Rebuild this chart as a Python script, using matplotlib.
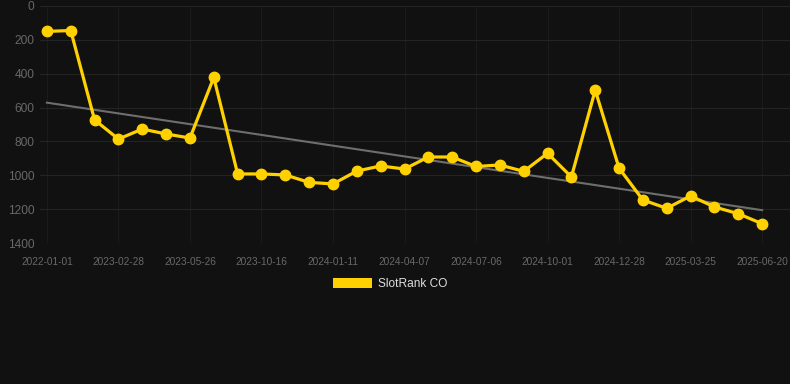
import matplotlib.pyplot as plt
import numpy as np
from matplotlib.patches import Patch

plt.rcParams['font.family'] = ['Liberation Sans', 'DejaVu Sans']

# категории: одна точка на каждую дату, подписи каждой третьей
tick_labels = ["2022-01-01", "2023-02-28", "2023-05-26", "2023-10-16", "2024-01-11",
               "2024-04-07", "2024-07-06", "2024-10-01", "2024-12-28", "2025-03-25",
               "2025-06-20"]

rank = [150, 145, 673, 786, 727, 756, 780, 422, 992, 992,
        998, 1042, 1051, 975, 945, 963, 892, 892, 948, 939,
        977, 870, 1010, 497, 958, 1146, 1195, 1122, 1187, 1227,
        1286]

series_name = "SlotRank CO"

bg = "#111111"
gold = "#FFD100"

x = np.arange(len(rank))

fig = plt.figure(figsize=[7.9, 3.84], dpi=100, facecolor=bg)
ax = fig.add_axes([40 / 790, 141 / 384, 750 / 790, 237 / 384])
ax.set_facecolor(bg)

# линия тренда
k, b = np.polyfit(x, rank, 1)
ax.plot(x, k * x + b, color="#6e6e6e", linewidth=1.5, zorder=2)

ax.plot(x, rank, color=gold, linewidth=2.3, marker="o", markersize=7.5, zorder=3)

ax.set_xlim(-0.29, 31.17)
ax.set_ylim(1400, 0)
ax.set_yticks(range(0, 1401, 200))
ax.set_xticks(x[::3])
ax.set_xticklabels(tick_labels)

ax.grid(True, axis="y", color="#242424", linewidth=0.8)
ax.grid(True, axis="x", color="#1b1b1b", linewidth=0.8)
ax.tick_params(colors="#686868", labelsize=7.3, length=0, pad=10)
ax.tick_params(axis="y", labelsize=8.6, pad=4)
for s in ax.spines.values():
    s.set_visible(False)

fig.legend(handles=[Patch(facecolor=gold, label=series_name)],
           loc="center", bbox_to_anchor=(390 / 790, 1 - 284 / 384),
           frameon=False, handlelength=3.3, handleheight=1.0, handletextpad=0.5,
           labelcolor="#dddddd", fontsize=8.6)

plt.savefig("out.png", facecolor=bg)
